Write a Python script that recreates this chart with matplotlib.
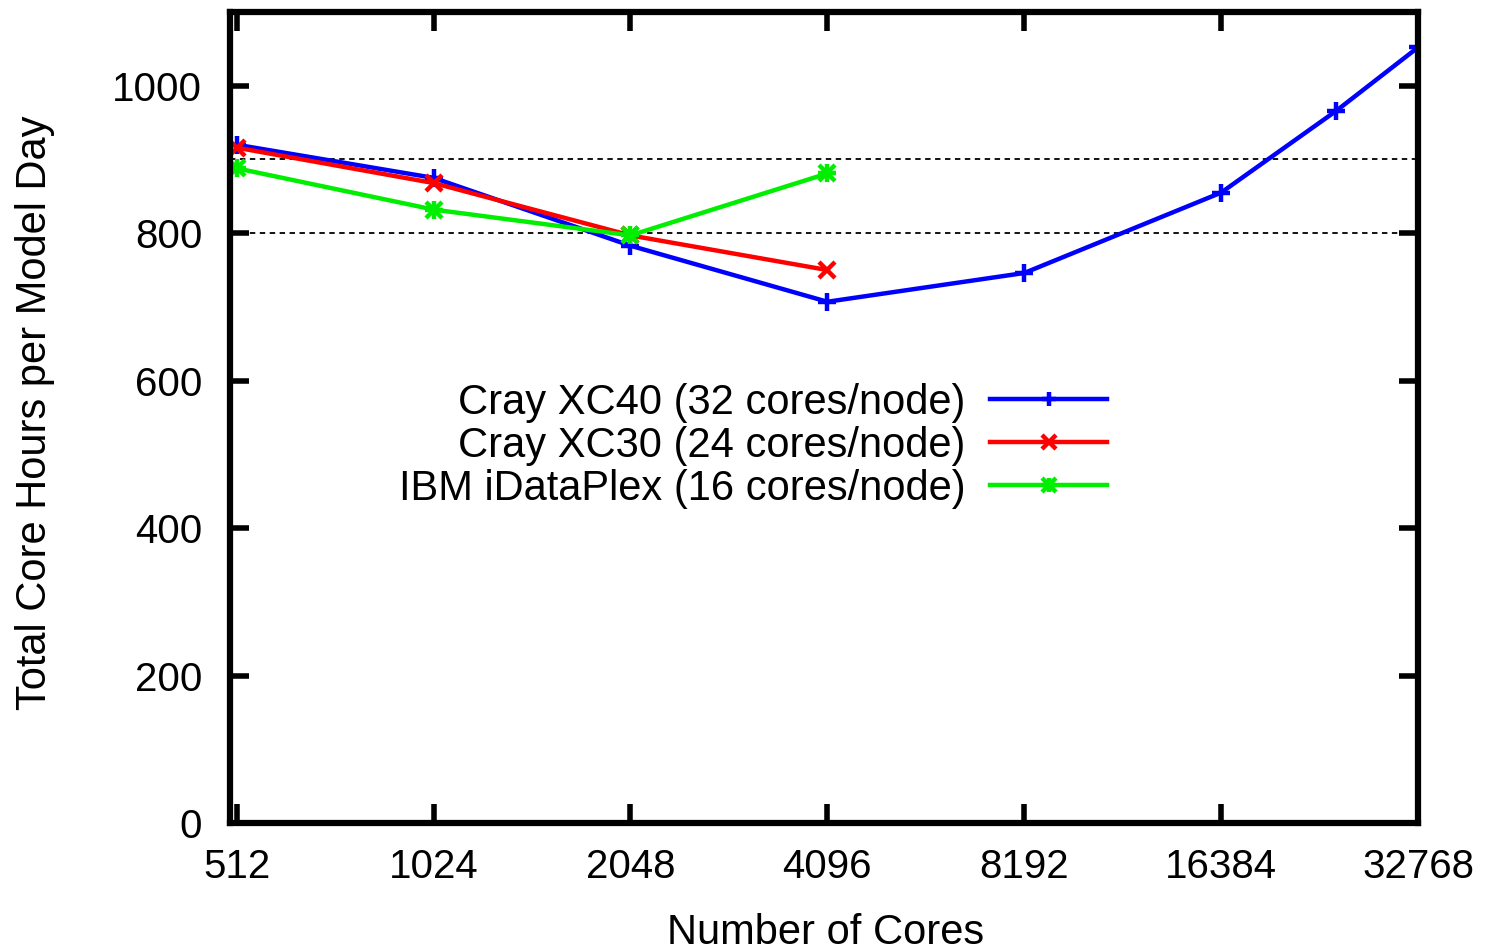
import matplotlib
matplotlib.use('Agg')
import matplotlib.pyplot as plt
from matplotlib.legend_handler import HandlerTuple

plt.rcParams['font.family'] = ['Liberation Sans', 'DejaVu Sans']

# data
coresXC40 = [512, 1024, 2048, 4096, 8192, 16384, 24576, 32768]
hoursXC40 = [920, 875, 783, 707, 746, 855, 966, 1052]

coresXC30 = [512, 1024, 2048, 4096]
hoursXC30 = [916, 868, 797, 750]

coresIBM = [512, 1024, 2048, 4096]
hoursIBM = [888, 832, 797, 881]

xTicks = [512, 1024, 2048, 4096, 8192, 16384, 32768]
yTicks = [0, 200, 400, 600, 800, 1000]
refLevels = [800, 900]

labels = ['Cray XC40 (32 cores/node)',
          'Cray XC30 (24 cores/node)',
          'IBM iDataPlex (16 cores/node)']

fsTick = 29
fsLab = 30
lw = 3.2
ms = 13

fig = plt.figure(figsize=(14.9, 9.47), dpi=100)
ax1 = fig.add_axes([230/1490, 1 - 823/947, (1418-230)/1490, (823-12)/947])

for lev in refLevels:
    ax1.axhline(lev, color='black', lw=1.3, ls=(0, (3, 2.5)), zorder=1)

lBlue, = ax1.plot(coresXC40, hoursXC40, color='#0000ff', lw=lw, marker='+', ms=ms, mew=lw)
lRed, = ax1.plot(coresXC30, hoursXC30, color='#ff0000', lw=lw, marker='x', ms=ms*0.9, mew=lw)
lGreen, = ax1.plot(coresIBM, hoursIBM, color='#00ee00', lw=lw, marker='x', ms=ms*0.9, mew=lw)
lGreen2, = ax1.plot(coresIBM, hoursIBM, color='#00ee00', lw=0, marker='+', ms=ms, mew=lw)

ax1.set_xscale('log', base=2)
ax1.set_xlim(500, 32768)
ax1.set_ylim(0, 1100)
ax1.set_xticks(xTicks)
ax1.set_xticklabels([str(v) for v in xTicks])
ax1.minorticks_off()
ax1.set_yticks(yTicks)

ax1.tick_params(axis='both', which='major', direction='in', length=14, width=4,
                top=True, right=True, labelsize=fsTick, color='black')
ax1.tick_params(axis='x', pad=18)
ax1.tick_params(axis='y', pad=20)
for s in ax1.spines.values():
    s.set_linewidth(4.5)

ax1.set_xlabel('Number of Cores', fontsize=fsLab)
ax1.set_ylabel('Total Core Hours per Model Day', fontsize=fsLab)
ax1.xaxis.set_label_coords((826-230)/(1418-230), -(913-823)/(823-12))
ax1.yaxis.set_label_coords(-(230-55)/(1418-230), (823-413)/(823-12))

leg = ax1.legend([lBlue, lRed, (lGreen, lGreen2)], labels,
                 handler_map={tuple: HandlerTuple(ndivide=1)},
                 loc='center right', bbox_to_anchor=(1107/1490, 1 - 446/947),
                 bbox_transform=fig.transFigure, frameon=False, markerfirst=False,
                 fontsize=fsLab, handlelength=2.8, handletextpad=0.6,
                 labelspacing=0.07, borderpad=0, borderaxespad=0, markerscale=0.8)
for t in leg.get_texts():
    t.set_ha('right')

fig.savefig('out.png', dpi=100)
